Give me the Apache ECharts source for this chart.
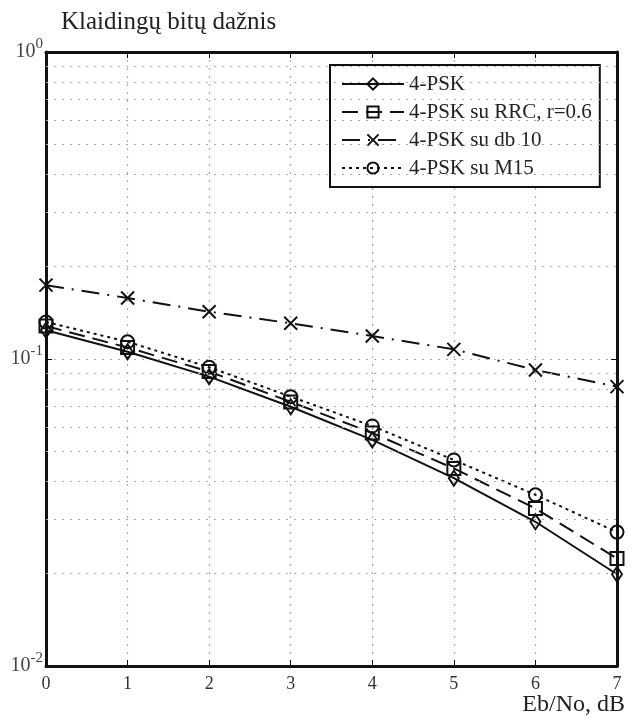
<!DOCTYPE html>
<html>
<head>
<meta charset="utf-8">
<script src="https://cdn.jsdelivr.net/npm/echarts@6/dist/echarts.min.js"></script>
<style>
html,body{margin:0;padding:0;background:#fff;}
#chart{width:639px;height:720px;}
</style>
</head>
<body>
<div id="chart"></div>
<script>
const xValues = [0, 1, 2, 3, 4, 5, 6, 7];
const psk = [0.124, 0.1056, 0.0876, 0.0699, 0.0545, 0.0409, 0.0295, 0.0199];
const pskRRC = [0.128, 0.109, 0.091, 0.0725, 0.0574, 0.044, 0.0326, 0.0224];
const pskDb10 = [0.174, 0.158, 0.1426, 0.1307, 0.1188, 0.1075, 0.0921, 0.0813];
const pskM15 = [0.132, 0.1138, 0.094, 0.0754, 0.0605, 0.0469, 0.0361, 0.0273];
const minorGridValues = [0.02, 0.03, 0.04, 0.05, 0.06, 0.07, 0.08, 0.09, 0.2, 0.3, 0.4, 0.5, 0.6, 0.7, 0.8, 0.9];
const seriesNames = ['4-PSK', '4-PSK su RRC, r=0.6', '4-PSK su db 10', '4-PSK su M15'];

const FONT = 'Liberation Serif';
const pairs = arr => xValues.map((x, i) => [x, arr[i]]);
const xMark = 'path://M0,0L10,10M10,0L0,10';

function mkSeries(name, data, symbol, lineType, size, extra) {
  return Object.assign({
    name: name,
    type: 'line',
    data: pairs(data),
    symbol: symbol,
    symbolSize: size,
    showAllSymbol: true,
    clip: false,
    lineStyle: { color: '#111', width: 2, type: lineType },
    itemStyle: { color: 'rgba(255,255,255,0)', borderColor: '#111', borderWidth: 2 },
    emphasis: { disabled: true },
    animation: false
  }, extra || {});
}

const chart = echarts.init(document.getElementById('chart'), null, { renderer: 'canvas' });
chart.setOption({
  backgroundColor: '#fff',
  animation: false,
  title: {
    text: 'Klaidingų bitų dažnis',
    left: 56, top: 5,
    textStyle: { fontFamily: FONT, fontSize: 25, fontWeight: 'normal', color: '#222' }
  },
  grid: { left: 46, right: 22, top: 52, bottom: 54, containLabel: false },
  legend: {
    orient: 'vertical',
    left: 330, top: 65,
    padding: [7, 8, 7, 11],
    itemGap: 4,
    itemWidth: 62, itemHeight: 14,
    borderColor: '#111', borderWidth: 2,
    backgroundColor: '#fff',
    lineStyle: { width: 2, color: '#111' },
    itemStyle: { borderWidth: 2, borderColor: '#111' },
    textStyle: { fontFamily: FONT, fontSize: 21, lineHeight: 24, color: '#222' },
    data: seriesNames
  },
  xAxis: [{
    type: 'value', min: 0, max: 7, interval: 1,
    position: 'bottom',
    name: 'Eb/No, dB', nameLocation: 'end', nameGap: 8,
    nameTextStyle: { fontFamily: FONT, fontSize: 24, color: '#222', align: 'right', verticalAlign: 'top', padding: [27, 0, 0, 0] },
    axisLine: { onZero: false, lineStyle: { color: '#111', width: 3 } },
    axisTick: { inside: true, length: 6, lineStyle: { color: '#111', width: 1 } },
    axisLabel: { fontFamily: FONT, fontSize: 18, color: '#333', margin: 9 },
    splitLine: { show: true, lineStyle: { color: '#aaa', type: [2, 6], width: 1.2 } }
  }, {
    type: 'value', min: 0, max: 7, interval: 1,
    position: 'top',
    axisLine: { onZero: false, lineStyle: { color: '#111', width: 3 } },
    axisTick: { inside: true, length: 6, lineStyle: { color: '#111', width: 1 } },
    axisLabel: { show: false },
    splitLine: { show: false }
  }],
  yAxis: [{
    type: 'log', logBase: 10, min: 0.01, max: 1,
    position: 'left',
    axisLine: { onZero: false, lineStyle: { color: '#111', width: 3 } },
    axisTick: { inside: true, length: 6, lineStyle: { color: '#111', width: 1 } },
    axisLabel: {
      margin: 3,
      formatter: function (v) {
        const e = Math.round(Math.log10(v));
        return '{b|10}{s|' + e + '}';
      },
      rich: {
        b: { fontFamily: FONT, fontSize: 20, color: '#444' },
        s: { fontFamily: FONT, fontSize: 15, color: '#444', padding: [0, 0, 16, 0] }
      }
    },
    splitLine: { show: true, lineStyle: { color: '#aaa', type: [2, 6], width: 1.2 } }
  }, {
    type: 'log', logBase: 10, min: 0.01, max: 1,
    position: 'right',
    axisLine: { onZero: false, lineStyle: { color: '#111', width: 3 } },
    axisTick: { inside: true, length: 6, lineStyle: { color: '#111', width: 1 } },
    axisLabel: { show: false },
    splitLine: { show: false }
  }],
  series: [
    mkSeries(seriesNames[3], pskM15, 'circle', [3, 4], 13, {
      markLine: {
        silent: true, symbol: 'none', animation: false,
        label: { show: false },
        lineStyle: { color: '#aaa', type: [2, 6], width: 1.2 },
        data: minorGridValues.map(v => ({ yAxis: v }))
      }
    }),
    mkSeries(seriesNames[2], pskDb10, xMark, [18, 8, 2, 8], 13),
    mkSeries(seriesNames[1], pskRRC, 'rect', [16, 8], 13),
    mkSeries(seriesNames[0], psk, 'diamond', 'solid', [10, 15])
  ]
});
</script>
</body>
</html>
